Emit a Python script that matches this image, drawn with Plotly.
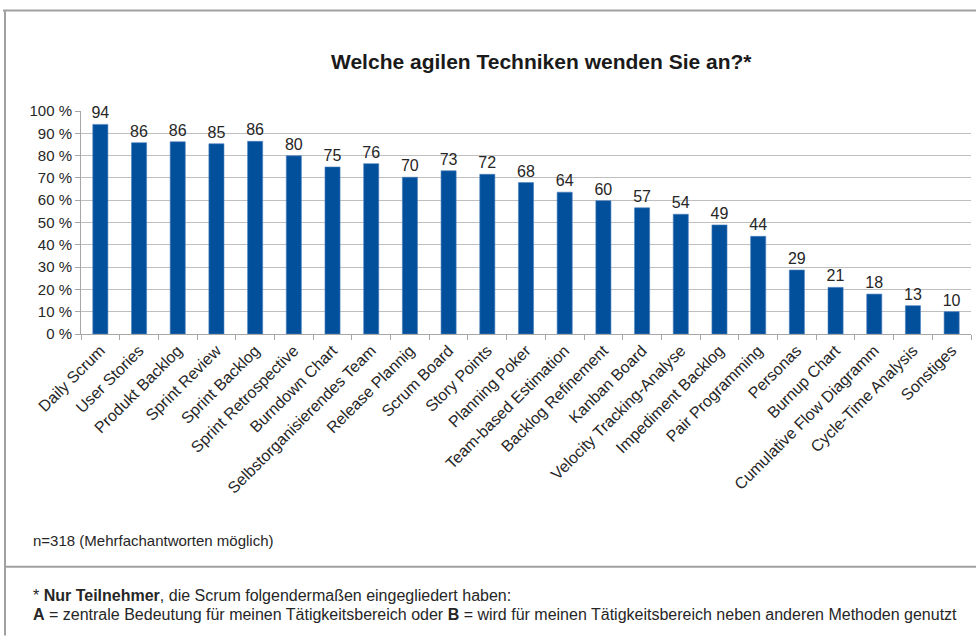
import plotly.graph_objects as go

categories = ["Daily Scrum", "User Stories", "Produkt Backlog", "Sprint Review", "Sprint Backlog",
              "Sprint Retrospective", "Burndown Chart", "Selbstorganisierendes Team", "Release Plannig",
              "Scrum Board", "Story Points", "Planning Poker", "Team-based Estimation",
              "Backlog Refinement", "Kanban Board", "Velocity Tracking-Analyse", "Impediment Backlog",
              "Pair Programming", "Personas", "Burnup Chart", "Cumulative Flow Diagramm",
              "Cycle-Time Analysis", "Sonstiges"]
values = [94.0, 85.8, 86.2, 85.3, 86.4, 79.9, 74.9, 76.4, 70.3, 73.2, 71.6, 67.9, 63.6,
          59.8, 56.6, 53.7, 48.9, 43.8, 28.7, 20.9, 17.9, 12.7, 10.0]
labels = ["94", "86", "86", "85", "86", "80", "75", "76", "70", "73", "72", "68", "64",
          "60", "57", "54", "49", "44", "29", "21", "18", "13", "10"]
tick_vals = [0, 10, 20, 30, 40, 50, 60, 70, 80, 90, 100]
tick_text = [f"{v} %" for v in tick_vals]

title_text = "<b>Welche agilen Techniken wenden Sie an?*</b>"
note_text = "n=318 (Mehrfachantworten möglich)"
foot1 = "* <b>Nur Teilnehmer</b>, die Scrum folgendermaßen eingegliedert haben:"
foot2 = ("<b>A</b> = zentrale Bedeutung für meinen Tätigkeitsbereich oder <b>B</b> = "
         "wird für meinen Tätigkeitsbereich neben anderen Methoden genutzt")

W, H = 976, 636
X0, X1 = 81, 971
Y_TOP, Y_BOT = 110.7, 334.0
FONT = "Liberation Sans, Arial, sans-serif"
TXT = "#262626"


def px(x):
    return (x - X0) / (X1 - X0)


def py(y):
    return (Y_BOT - y) / (Y_BOT - Y_TOP)


fig = go.Figure(go.Bar(
    x=categories, y=values, text=labels, textposition="outside",
    textfont=dict(family=FONT, size=16, color=TXT), constraintext="none",
    marker=dict(color="#02509B", line=dict(color="#4a7fc0", width=0.6)),
    cliponaxis=False, width=0.39,
))

fig.update_layout(
    width=W, height=H,
    margin=dict(l=X0, r=W - X1, t=Y_TOP, b=H - Y_BOT, autoexpand=False),
    paper_bgcolor="white", plot_bgcolor="white",
    showlegend=False,
    font=dict(family=FONT, size=15, color=TXT),
    xaxis=dict(type="category", tickangle=-45, ticks="outside", tickson="boundaries",
               ticklen=5, tickcolor="#a6a6a6", showline=True, linecolor="#a6a6a6",
               linewidth=1, showgrid=False, automargin=False,
               tickfont=dict(family=FONT, size=16, color=TXT)),
    yaxis=dict(range=[0, 100], tickvals=tick_vals, ticktext=tick_text, showgrid=True,
               gridcolor="#bfbfbf", gridwidth=1, showline=True, linecolor="#a6a6a6",
               ticks="outside", ticklen=5, tickcolor="#a6a6a6", zeroline=False,
               automargin=False,
               tickfont=dict(family=FONT, size=15, color=TXT)),
)

fig.add_annotation(text=title_text, xref="paper", yref="paper", x=px(541), y=py(61),
                   xanchor="center", yanchor="middle", showarrow=False,
                   font=dict(family=FONT, size=21, color="#1a1a1a"))
fig.add_annotation(text=note_text, xref="paper", yref="paper", x=px(31), y=py(541),
                   xanchor="left", yanchor="middle", showarrow=False,
                   font=dict(family=FONT, size=15, color=TXT))
fig.add_annotation(text=foot1, xref="paper", yref="paper", x=px(31), y=py(596),
                   xanchor="left", yanchor="middle", showarrow=False,
                   font=dict(family=FONT, size=16, color=TXT))
fig.add_annotation(text=foot2, xref="paper", yref="paper", x=px(31), y=py(615),
                   xanchor="left", yanchor="middle", showarrow=False,
                   font=dict(family=FONT, size=16, color=TXT))

line_style = dict(color="#a0a0a0", width=2)
fig.add_shape(type="line", xref="paper", yref="paper", x0=px(3), x1=px(976), y0=py(10), y1=py(10),
              line=line_style)
fig.add_shape(type="line", xref="paper", yref="paper", x0=px(5), x1=px(5), y0=py(10), y1=py(636),
              line=line_style)
fig.add_shape(type="line", xref="paper", yref="paper", x0=px(5), x1=px(976), y0=py(567), y1=py(567),
              line=line_style)

fig.write_html("out.html", config={"displayModeBar": False},
               post_script="document.body.style.margin='0';document.body.style.overflow='hidden';")
